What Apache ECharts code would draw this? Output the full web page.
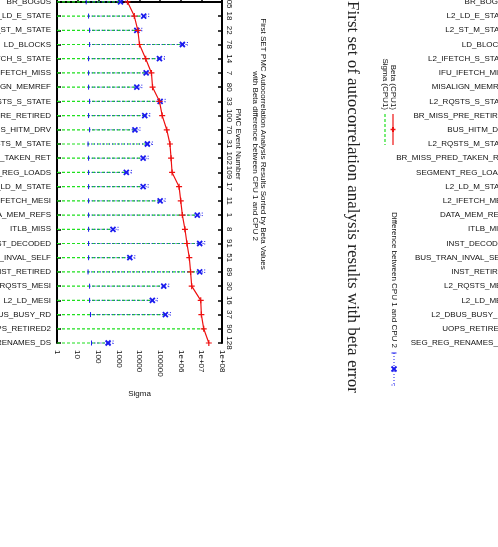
<!DOCTYPE html>
<html>
<head>
<meta charset="utf-8">
<script src="https://cdn.jsdelivr.net/npm/echarts/dist/echarts.min.js"></script>
<style>
  html, body { margin: 0; padding: 0; background: #fff; }
  #chart { width: 498px; height: 547px; }
</style>
</head>
<body>
<div id="chart"></div>
<script>
// PMC events, sorted by beta (top to bottom)
const categories = [
  'BR_BOGUS', 'L2_LD_E_STATE', 'L2_ST_M_STATE', 'LD_BLOCKS', 'L2_IFETCH_S_STATE',
  'IFU_IFETCH_MISS', 'MISALIGN_MEMREF', 'L2_RQSTS_S_STATE', 'BR_MISS_PRE_RETIRED',
  'BUS_HITM_DRV', 'L2_RQSTS_M_STATE', 'BR_MISS_PRED_TAKEN_RET', 'SEGMENT_REG_LOADS',
  'L2_LD_M_STATE', 'L2_IFETCH_MESI', 'DATA_MEM_REFS', 'ITLB_MISS', 'INST_DECODED',
  'BUS_TRAN_INVAL_SELF', 'INST_RETIRED', 'L2_RQSTS_MESI', 'L2_LD_MESI',
  'L2_DBUS_BUSY_RD', 'UOPS_RETIRED2', 'SEG_REG_RENAMES_DS'
];
const eventNumbers = [105, 18, 22, 78, 14, 7, 80, 33, 100, 70, 31, 102, 109, 17, 11, 1, 8, 91, 51, 89, 30, 16, 37, 90, 128];

// Beta (CPU1)
const betaCpu1 = [2600, 5600, 8300, 10000, 20000, 38000, 43000, 93000, 126000, 210000,
  300000, 340000, 380000, 830000, 1000000, 1200000, 1600000, 2000000, 2600000, 3000000,
  3400000, 9300000, 10000000, 13000000, 23000000];
// Sigma (CPU1)
const sigmaCpu1 = [1200, 16000, 7400, 1200000, 93000, 21000, 7400, 100000, 18000, 6000,
  24000, 15000, 2300, 15000, 100000, 6300000, 520, 8300000, 3400, 8300000,
  150000, 42000, 180000, 13000000, 300];
// Difference between CPU 1 and CPU 2 (value and lower bar end)
const diffCpu12 = [1200, 16000, 7400, 1200000, 93000, 21000, 7400, 100000, 18000, 6000,
  24000, 15000, 2300, 15000, 100000, 6300000, 520, 8300000, 3400, 8300000,
  150000, 42000, 180000, null, 300];
const diffLow = [26, 34, 38, 38, 34, 34, 34, 38, 34, 38, 32, 34, 34, 34, 34, 34, 34, 34, 34, 32,
  38, 38, 42, null, 47];

const chart = echarts.init(document.getElementById('chart'));

const SANS = '"Liberation Sans", Arial, sans-serif';
const ROWS_MIN = -4, ROWS_MAX = 24;

function rowLabel(list) {
  return function (v) {
    return v >= 0 && v < list.length ? String(list[v]) : '';
  };
}

function logLabel(v) {
  const e = Math.round(Math.log10(v));
  if (e >= 6) return '1e+' + (e < 10 ? '0' : '') + e;
  return String(Math.round(v));
}

const greenData = sigmaCpu1.map((v, i) => [v, i]);
const blueData = [];
diffCpu12.forEach((v, i) => { if (v != null) blueData.push([diffLow[i], v, i]); });

function renderGreen(params, api) {
  const a = api.coord([1, api.value(1)]);
  const b = api.coord([api.value(0), api.value(1)]);
  return {
    type: 'line',
    shape: { x1: a[0], y1: a[1], x2: b[0], y2: b[1] },
    style: { stroke: '#1fe01f', lineWidth: 1.2, lineDash: [3, 2] }
  };
}

function renderBlue(params, api) {
  const lo = api.coord([api.value(0), api.value(2)]);
  const mid = api.coord([api.value(1), api.value(2)]);
  const hi = [mid[0] + 5, mid[1]];
  const s = 2.5;
  const blue = '#1a1aee';
  return {
    type: 'group',
    children: [
      { type: 'line', shape: { x1: lo[0], y1: lo[1], x2: hi[0], y2: hi[1] },
        style: { stroke: blue, lineWidth: 1, lineDash: [1, 2] } },
      { type: 'line', shape: { x1: lo[0], y1: lo[1] - 2.5, x2: lo[0], y2: lo[1] + 2.5 },
        style: { stroke: blue, lineWidth: 1 } },
      { type: 'line', shape: { x1: hi[0], y1: hi[1] - 2.5, x2: hi[0], y2: hi[1] + 2.5 },
        style: { stroke: blue, lineWidth: 1, lineDash: [1, 1.5] } },
      { type: 'line', shape: { x1: mid[0] - s, y1: mid[1] - s, x2: mid[0] + s, y2: mid[1] + s },
        style: { stroke: blue, lineWidth: 1.8 } },
      { type: 'line', shape: { x1: mid[0] - s, y1: mid[1] + s, x2: mid[0] + s, y2: mid[1] - s },
        style: { stroke: blue, lineWidth: 1.8 } }
    ]
  };
}

function vtext(x, y, text, font, align, color) {
  return {
    type: 'text', x: x, y: y, rotation: -Math.PI / 2, silent: true,
    style: {
      text: text, font: font, fill: color || '#111',
      textAlign: align || 'center', align: align || 'center',
      textVerticalAlign: 'middle', verticalAlign: 'middle'
    }
  };
}
function seg(x1, y1, x2, y2, color, dash, w) {
  return {
    type: 'line', silent: true,
    shape: { x1: x1, y1: y1, x2: x2, y2: y2 },
    style: { stroke: color, lineWidth: w || 1, lineDash: dash || null }
  };
}

const rowAxisBase = {
  type: 'value', min: ROWS_MIN, max: ROWS_MAX, interval: 1, inverse: true,
  splitLine: { show: false }
};

chart.setOption({
  animation: false,
  backgroundColor: '#fff',
  grid: [
    { left: 57, top: -55, width: 165, height: 398, outerBoundsMode: 'none', containLabel: false },
    { left: 515, top: -55, width: 60, height: 398, outerBoundsMode: 'none', containLabel: false }
  ],
  xAxis: [
    {
      type: 'log', logBase: 10, min: 1, max: 100000000, splitNumber: 8,
      gridIndex: 0, position: 'bottom',
      name: 'Sigma', nameLocation: 'middle', nameGap: 47,
      nameTextStyle: { fontFamily: SANS, fontSize: 8, color: '#111' },
      axisLine: { lineStyle: { color: '#000', width: 2 } },
      axisTick: { inside: true, length: 4, lineStyle: { color: '#000', width: 1.5 } },
      minorTick: { show: false },
      splitLine: { show: false },
      axisLabel: { rotate: -90, margin: 7, fontFamily: SANS, fontSize: 8, color: '#111', formatter: logLabel }
    },
    { type: 'value', gridIndex: 1, show: false, min: 0, max: 1 }
  ],
  yAxis: [
    Object.assign({}, rowAxisBase, {
      gridIndex: 0, position: 'left',
      axisLine: { show: true, lineStyle: { color: '#000', width: 2 } },
      axisTick: { show: true, inside: true, length: 4, lineStyle: { color: '#000', width: 1.5 } },
      axisLabel: { margin: 6, fontFamily: SANS, fontSize: 8, color: '#111', formatter: rowLabel(categories) }
    }),
    Object.assign({}, rowAxisBase, {
      gridIndex: 0, position: 'right',
      axisLine: { show: true, lineStyle: { color: '#000', width: 2 } },
      axisTick: { show: true, inside: true, length: 4, lineStyle: { color: '#000', width: 1.5 } },
      axisLabel: { rotate: -90, margin: 3, fontFamily: SANS, fontSize: 8, color: '#111', formatter: rowLabel(eventNumbers) }
    }),
    Object.assign({}, rowAxisBase, {
      gridIndex: 1, position: 'left',
      axisLine: { show: false }, axisTick: { show: false },
      axisLabel: { margin: 6, fontFamily: SANS, fontSize: 8, color: '#111', formatter: rowLabel(categories) }
    })
  ],
  series: [
    {
      name: 'Sigma (CPU1)', type: 'custom', xAxisIndex: 0, yAxisIndex: 0,
      renderItem: renderGreen, data: greenData, z: 2
    },
    {
      name: 'Difference between CPU 1 and CPU 2', type: 'custom', xAxisIndex: 0, yAxisIndex: 0,
      renderItem: renderBlue, data: blueData, z: 3
    },
    {
      name: 'Beta (CPU1)', type: 'line', xAxisIndex: 0, yAxisIndex: 0,
      data: betaCpu1.map((v, i) => [v, i]),
      symbol: 'path://M4,0h2v4h4v2h-4v4h-2v-4h-4v-2h4z', symbolSize: 6,
      lineStyle: { color: '#ee1111', width: 1.2 },
      itemStyle: { color: '#ee1111' }, z: 4
    }
  ],
  graphic: [
    vtext(238, 144, 'PMC Event Number', '8px ' + SANS),
    vtext(263, 144, 'First SET PMC Autocorrelation Analysis Results Sorted by Beta Values', '8px ' + SANS),
    vtext(255, 156, 'with Beta difference between CPU 1 and CPU 2', '8px ' + SANS),
    vtext(352, 197, 'First set of autocorrelation analysis results with beta error', '17px "Liberation Serif", "Times New Roman", serif', 'center', '#222'),
    // key
    vtext(393, 110, 'Beta (CPU1)', '8px ' + SANS, 'right'),
    vtext(385, 110, 'Sigma (CPU1)', '8px ' + SANS, 'right'),
    seg(393, 114, 393, 145, '#ee1111', null, 1.2),
    seg(390.5, 129.5, 395.5, 129.5, '#ee1111', null, 1.5),
    seg(393, 127, 393, 132, '#ee1111', null, 2),
    seg(385, 114, 385, 145, '#1fe01f', [3, 2], 1.2),
    vtext(394, 348, 'Difference between CPU 1 and CPU 2', '8px ' + SANS, 'right'),
    seg(394, 353, 394, 385, '#1a1aee', [1, 2]),
    seg(391.5, 353, 396.5, 353, '#1a1aee'),
    seg(391.5, 385, 396.5, 385, '#1a1aee', [1, 1.5]),
    seg(391.5, 366.5, 396.5, 371.5, '#1a1aee', null, 1.8),
    seg(396.5, 366.5, 391.5, 371.5, '#1a1aee', null, 1.8)
  ]
});
</script>
</body>
</html>
